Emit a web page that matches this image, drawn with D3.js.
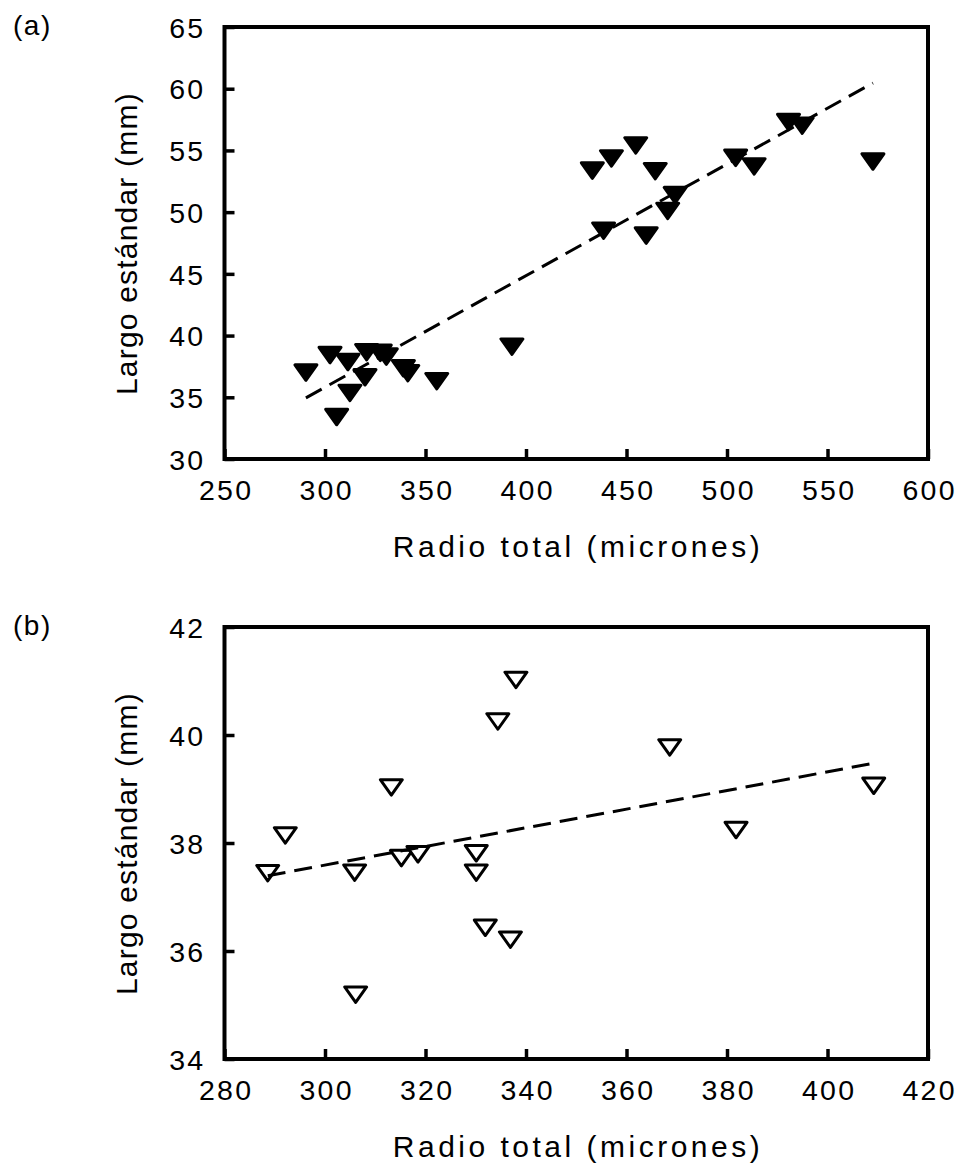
<!DOCTYPE html>
<html>
<head>
<meta charset="utf-8">
<script src="https://cdn.jsdelivr.net/npm/d3@7"></script>
<style>
  html, body { margin: 0; padding: 0; background: #fff; }
  svg { display: block; }
  text { font-family: "Liberation Sans", Arial, sans-serif; fill: #000; }
</style>
</head>
<body>
<script>
// ---------- DATA ----------
// Panel (a): filled triangles
const xA = [290.5, 302.5, 311.4, 320.7, 327.5, 330.5, 319.9, 312.4, 305.8, 339.0, 341.2, 355.6,
            393.0, 433.0, 442.5, 454.6, 464.3, 474.2, 470.5, 438.6, 459.8, 504.3, 513.5, 530.6, 537.4, 572.6];
const yA = [37.0, 38.42, 37.85, 38.65, 38.6, 38.3, 36.62, 35.35, 33.4, 37.35, 36.95, 36.3,
            39.1, 53.37, 54.35, 55.4, 53.32, 51.38, 50.1, 48.5, 48.1, 54.4, 53.7, 57.3, 57.0, 54.1];
const trendA = [8.68, 0.09043];          // intercept, slope
const xTicksA = [250, 300, 350, 400, 450, 500, 550, 600];
const yTicksA = [30, 35, 40, 45, 50, 55, 60, 65];

// Panel (b): open triangles
const xB = [288.6, 292.1, 305.9, 306.1, 313.2, 315.2, 318.5, 330.1, 330.1, 331.9, 336.9, 334.4, 338.0, 368.6, 381.8, 409.2];
const yB = [37.44, 38.14, 37.45, 35.19, 39.03, 37.72, 37.79, 37.81, 37.45, 36.43, 36.21, 40.25, 41.02, 39.77, 38.24, 39.06];
const trendB = [32.41, 0.01727];         // intercept, slope
const xTicksB = [280, 300, 320, 340, 360, 380, 400, 420];
const yTicksB = [34, 36, 38, 40, 42];

const panelLabels = ["(a)", "(b)"];
const xTitle = "Radio total (micrones)";
const yTitle = "Largo estándar (mm)";

// ---------- LAYOUT ----------
const W = 959, H = 1167;
const left = 224.5, right = 928;
const panels = [
  { top: 27, bottom: 459, xs: xA, ys: yA, trend: trendA, xt: xTicksA, yt: yTicksA, filled: true, label: panelLabels[0] },
  { top: 627, bottom: 1059, xs: xB, ys: yB, trend: trendB, xt: xTicksB, yt: yTicksB, filled: false, label: panelLabels[1] }
];

const svg = d3.select("body").append("svg").attr("width", W).attr("height", H);

const tickFont = 28.5, tickSpacing = 2.3;
const titleFont = 30;

panels.forEach(p => {
  const x = d3.scaleLinear().domain(d3.extent(p.xt)).range([left, right]);
  const y = d3.scaleLinear().domain(d3.extent(p.yt)).range([p.bottom, p.top]);
  const g = svg.append("g");

  // bottom axis (inside ticks)
  const gx = g.append("g").attr("transform", `translate(0,${p.bottom})`)
    .call(d3.axisBottom(x).tickValues(p.xt).tickSize(-10).tickPadding(21).tickFormat(d3.format("d")));
  gx.select(".domain").remove();
  gx.selectAll(".tick line").attr("stroke", "#000").attr("stroke-width", 3.5);
  gx.selectAll(".tick text")
    .attr("font-size", tickFont).attr("font-family", "Liberation Sans, Arial, sans-serif")
    .style("letter-spacing", tickSpacing + "px").attr("dx", tickSpacing / 2).attr("fill", "#000");

  // left axis (inside ticks)
  const gy = g.append("g").attr("transform", `translate(${left},0)`)
    .call(d3.axisLeft(y).tickValues(p.yt).tickSize(-10).tickPadding(19).tickFormat(d3.format("d")));
  gy.select(".domain").remove();
  gy.selectAll(".tick line").attr("stroke", "#000").attr("stroke-width", 3.5);
  gy.selectAll(".tick text")
    .attr("font-size", tickFont).attr("font-family", "Liberation Sans, Arial, sans-serif")
    .style("letter-spacing", tickSpacing + "px").attr("dy", "0.36em").attr("fill", "#000");

  // frame
  g.append("rect")
    .attr("x", left).attr("y", p.top)
    .attr("width", right - left).attr("height", p.bottom - p.top)
    .attr("fill", "none").attr("stroke", "#000").attr("stroke-width", 4);

  // markers
  const tw = 22, th = 15.5;
  const tri = `M${-tw/2},${-th/2}L${tw/2},${-th/2}L0,${th/2}Z`;
  g.append("g").selectAll("path").data(p.xs.map((v, i) => [v, p.ys[i]])).join("path")
    .attr("transform", d => `translate(${x(d[0])},${y(d[1])})`)
    .attr("d", tri)
    .attr("fill", p.filled ? "#000" : "#fff")
    .attr("stroke", "#000").attr("stroke-width", 3).attr("stroke-linejoin", "round");

  // trend line (dashed) over data range
  const [x0, x1] = d3.extent(p.xs);
  const f = v => p.trend[0] + p.trend[1] * v;
  g.append("line")
    .attr("x1", x(x0)).attr("y1", y(f(x0)))
    .attr("x2", x(x1)).attr("y2", y(f(x1)))
    .attr("stroke", "#000").attr("stroke-width", 3).attr("stroke-dasharray", "18,9");

  // axis titles
  g.append("text")
    .attr("x", (left + right) / 2 + 1.75).attr("y", p.bottom + 98)
    .attr("text-anchor", "middle").attr("font-size", titleFont)
    .style("letter-spacing", "3.5px")
    .text(xTitle);
  g.append("text")
    .attr("transform", `translate(137,${(p.top + p.bottom) / 2 + 0.6}) rotate(-90)`)
    .attr("text-anchor", "middle").attr("font-size", titleFont)
    .style("letter-spacing", "1.2px")
    .text(yTitle);

  // panel label
  g.append("text")
    .attr("x", 13).attr("y", p.top + 7.5)
    .attr("font-size", 28).style("letter-spacing", "1.5px")
    .text(p.label);
});
</script>
</body>
</html>
